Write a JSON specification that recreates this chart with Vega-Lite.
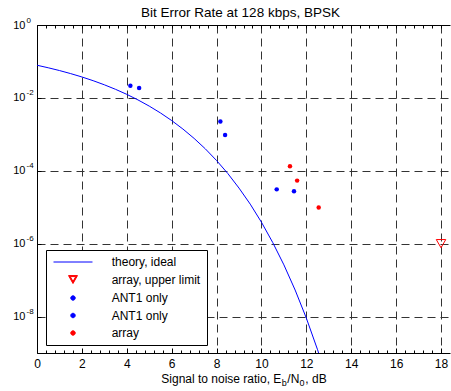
{
  "$schema": "https://vega.github.io/schema/vega-lite/v6.json",
  "width": 413,
  "height": 328,
  "autosize": {"type": "none"},
  "padding": {"left": 37, "top": 25, "right": 1, "bottom": 38},
  "background": "white",
  "config": {
    "view": {"stroke": null},
    "font": "Liberation Sans",
    "axis": {"labelFont": "Liberation Sans", "titleFont": "Liberation Sans", "labelColor": "black", "titleColor": "black", "tickColor": "black", "domainColor": "black", "titleFontWeight": "normal"}
  },
  "data": {
    "values": [
      {"series": "theory, ideal", "snr": 0, "ber": 0.07865},
      {"series": "theory, ideal", "snr": 0.5, "ber": 0.06707},
      {"series": "theory, ideal", "snr": 1, "ber": 0.05628},
      {"series": "theory, ideal", "snr": 1.5, "ber": 0.0464},
      {"series": "theory, ideal", "snr": 2, "ber": 0.03751},
      {"series": "theory, ideal", "snr": 2.5, "ber": 0.02965},
      {"series": "theory, ideal", "snr": 3, "ber": 0.02288},
      {"series": "theory, ideal", "snr": 3.5, "ber": 0.01717},
      {"series": "theory, ideal", "snr": 4, "ber": 0.0125},
      {"series": "theory, ideal", "snr": 4.5, "ber": 0.00879},
      {"series": "theory, ideal", "snr": 5, "ber": 0.005954},
      {"series": "theory, ideal", "snr": 5.5, "ber": 0.003867},
      {"series": "theory, ideal", "snr": 6, "ber": 0.002388},
      {"series": "theory, ideal", "snr": 6.5, "ber": 0.001399},
      {"series": "theory, ideal", "snr": 7, "ber": 0.0007727},
      {"series": "theory, ideal", "snr": 7.5, "ber": 0.0003999},
      {"series": "theory, ideal", "snr": 8, "ber": 0.0001909},
      {"series": "theory, ideal", "snr": 8.5, "ber": 0.0000843},
      {"series": "theory, ideal", "snr": 9, "ber": 0.0000335},
      {"series": "theory, ideal", "snr": 9.5, "ber": 0.00001217},
      {"series": "theory, ideal", "snr": 10, "ber": 0.000003872},
      {"series": "theory, ideal", "snr": 10.5, "ber": 0.000001081},
      {"series": "theory, ideal", "snr": 11, "ber": 2.62e-7},
      {"series": "theory, ideal", "snr": 11.5, "ber": 5.34e-8},
      {"series": "theory, ideal", "snr": 12, "ber": 9.04e-9},
      {"series": "theory, ideal", "snr": 12.5, "ber": 1.227e-9},
      {"series": "theory, ideal", "snr": 13, "ber": 1.33e-10},
      {"series": "array, upper limit", "snr": 18, "ber": 0.000001},
      {"series": "ANT1 only", "snr": 4.16, "ber": 0.0214},
      {"series": "ANT1 only", "snr": 8.17, "ber": 0.00224},
      {"series": "ANT1 only", "snr": 10.68, "ber": 0.0000309},
      {"series": "ANT1 only (2)", "snr": 4.55, "ber": 0.0186},
      {"series": "ANT1 only (2)", "snr": 8.38, "ber": 0.000955},
      {"series": "ANT1 only (2)", "snr": 11.45, "ber": 0.0000275},
      {"series": "array", "snr": 11.27, "ber": 0.000133},
      {"series": "array", "snr": 11.59, "ber": 0.0000537},
      {"series": "array", "snr": 12.55, "ber": 0.0000098}
    ]
  },
  "layer": [
    {
      "transform": [{"filter": "datum.series === 'theory, ideal'"}],
      "mark": {"type": "line", "clip": true, "strokeWidth": 1},
      "encoding": {
        "x": {"field": "snr", "type": "quantitative", "scale": {"domain": [0, 18.4], "nice": false, "zero": false},
          "axis": {"orient": "bottom", "values": [0, 2, 4, 6, 8, 10, 12, 14, 16, 18], "ticks": true, "tickSize": -5, "tickWidth": 1, "labelPadding": 10.5, "labelFontSize": 12, "labelFlush": false, "labelOverlap": false, "domain": true, "domainWidth": 1, "grid": true, "gridColor": "#333", "gridDash": [8, 5], "gridWidth": 1,
            "title": "Signal to noise ratio, E\u2002/N\u2002, dB", "titleFontSize": 12, "titleBaseline": "alphabetic", "titleY": 29.5}},
        "y": {"field": "ber", "type": "quantitative", "scale": {"type": "log", "domain": [1e-9, 1], "nice": false},
          "axis": {"orient": "left", "values": [1e-8, 1e-6, 1e-4, 1e-2, 1], "ticks": true, "tickSize": -4, "tickWidth": 1, "labelExpr": "'10'", "labelAlign": "right", "labelBaseline": "middle", "labelPadding": 16, "labelFontSize": 11, "labelFlush": false, "labelOverlap": false, "domain": true, "domainWidth": 1, "grid": true, "gridColor": "#333", "gridDash": [8, 5], "gridWidth": 1, "title": null}},
        "color": {"field": "series", "type": "nominal",
          "scale": {"domain": ["theory, ideal", "array, upper limit", "ANT1 only", "ANT1 only (2)", "array"], "range": ["#0000ff", "#ff0000", "#0000ff", "#0000ff", "#ff0000"]},
          "legend": {"orient": "none", "legendX": 9, "legendY": 225, "title": null, "direction": "vertical", "fillColor": "white", "strokeColor": "black", "padding": 6, "rowPadding": 5.5, "symbolSize": 20, "symbolStrokeWidth": 1, "symbolOffset": 15, "symbolType": "circle", "labelOffset": 32.7, "labelFontSize": 12, "labelFont": "Liberation Sans", "labelColor": "black", "labelLimit": 0, "labelExpr": "replace(datum.label, ' (2)', '')",
            "encode": {"symbols": {"update": {
              "shape": {"signal": "datum.value === 'theory, ideal' ? 'M-8.72,0L8.72,0' : datum.value === 'array, upper limit' ? 'M-2,-1.75L2,-1.75L0,1.8ZM-1.23,-1.3L0,0.883L1.23,-1.3Z' : 'M-1,0A1,1,0,1,0,1,0A1,1,0,1,0,-1,0Z'"},
              "fill": {"signal": "datum.value === 'array' || datum.value === 'array, upper limit' ? '#ff0000' : (datum.value === 'ANT1 only' || datum.value === 'ANT1 only (2)') ? '#0000ff' : 'transparent'"},
              "stroke": {"signal": "datum.value === 'theory, ideal' ? '#0000ff' : 'transparent'"},
              "strokeWidth": {"value": 1},
              "opacity": {"value": 1}
            }}}}
        }
      }
    },
    {
      "transform": [{"filter": "datum.series === 'ANT1 only'"}],
      "mark": {"type": "point", "shape": "circle", "filled": true, "size": 20, "opacity": 1},
      "encoding": {
        "x": {"field": "snr", "type": "quantitative",
          "axis": {"orient": "bottom", "values": [0.4, 0.8, 1.2, 1.6, 2.4, 2.8, 3.2, 3.6, 4.4, 4.8, 5.2, 5.6, 6.4, 6.8, 7.2, 7.6, 8.4, 8.8, 9.2, 9.6, 10.4, 10.8, 11.2, 11.6, 12.4, 12.8, 13.2, 13.6, 14.4, 14.8, 15.2, 15.6, 16.4, 16.8, 17.2, 17.6], "ticks": true, "tickSize": -3, "labels": false, "domain": false, "grid": false, "title": null}},
        "y": {"field": "ber", "type": "quantitative",
          "axis": {"orient": "left", "values": [1e-8, 1e-6, 1e-4, 1e-2, 1], "ticks": false, "labelExpr": "'' + round(log(datum.value) / LN10)", "labelAlign": "left", "labelBaseline": "middle", "labelPadding": 11, "labelOffset": -5, "labelFontSize": 8, "labelFlush": false, "labelOverlap": false, "domain": false, "grid": false, "title": null}},
        "color": {"field": "series", "type": "nominal"}
      }
    },
    {
      "transform": [{"filter": "datum.series === 'array, upper limit'"}],
      "mark": {"type": "point", "shape": "triangle-down", "filled": false, "size": 90, "strokeWidth": 1, "opacity": 1},
      "encoding": {
        "x": {"field": "snr", "type": "quantitative",
          "axis": {"orient": "top", "values": [0, 0.4, 0.8, 1.2, 1.6, 2, 2.4, 2.8, 3.2, 3.6, 4, 4.4, 4.8, 5.2, 5.6, 6, 6.4, 6.8, 7.2, 7.6, 8, 8.4, 8.8, 9.2, 9.6, 10, 10.4, 10.8, 11.2, 11.6, 12, 12.4, 12.8, 13.2, 13.6, 14, 14.4, 14.8, 15.2, 15.6, 16, 16.4, 16.8, 17.2, 17.6, 18], "ticks": true, "tickSize": -3, "labels": false, "domain": true, "domainWidth": 1, "grid": false,
            "title": "Bit Error Rate at 128 kbps, BPSK", "titleFontSize": 13.5, "titleAlign": "center", "titleBaseline": "alphabetic", "titleX": 203, "titleY": -9}},
        "y": {"field": "ber", "type": "quantitative", "axis": null},
        "color": {"field": "series", "type": "nominal"}
      }
    },
    {
      "transform": [{"filter": "datum.series === 'ANT1 only (2)'"}],
      "mark": {"type": "point", "shape": "circle", "filled": true, "size": 20, "opacity": 1},
      "encoding": {
        "x": {"field": "snr", "type": "quantitative",
          "axis": {"orient": "bottom", "values": [0], "ticks": false, "labels": false, "domain": false, "grid": false, "title": "b", "titleFontSize": 9, "titleAlign": "left", "titleAnchor": "start", "titleBaseline": "alphabetic", "titleX": 244.2, "titleY": 32.5}},
        "y": {"field": "ber", "type": "quantitative", "axis": null},
        "color": {"field": "series", "type": "nominal"}
      }
    },
    {
      "transform": [{"filter": "datum.series === 'array'"}],
      "mark": {"type": "point", "shape": "circle", "filled": true, "size": 20, "opacity": 1},
      "encoding": {
        "x": {"field": "snr", "type": "quantitative",
          "axis": {"orient": "bottom", "values": [0], "ticks": false, "labels": false, "domain": false, "grid": false, "title": "0", "titleFontSize": 9, "titleAlign": "left", "titleAnchor": "start", "titleBaseline": "alphabetic", "titleX": 262.1, "titleY": 32.5}},
        "y": {"field": "ber", "type": "quantitative", "axis": null},
        "color": {"field": "series", "type": "nominal"}
      }
    }
  ],
  "resolve": {"axis": {"x": "independent", "y": "independent"}}
}
